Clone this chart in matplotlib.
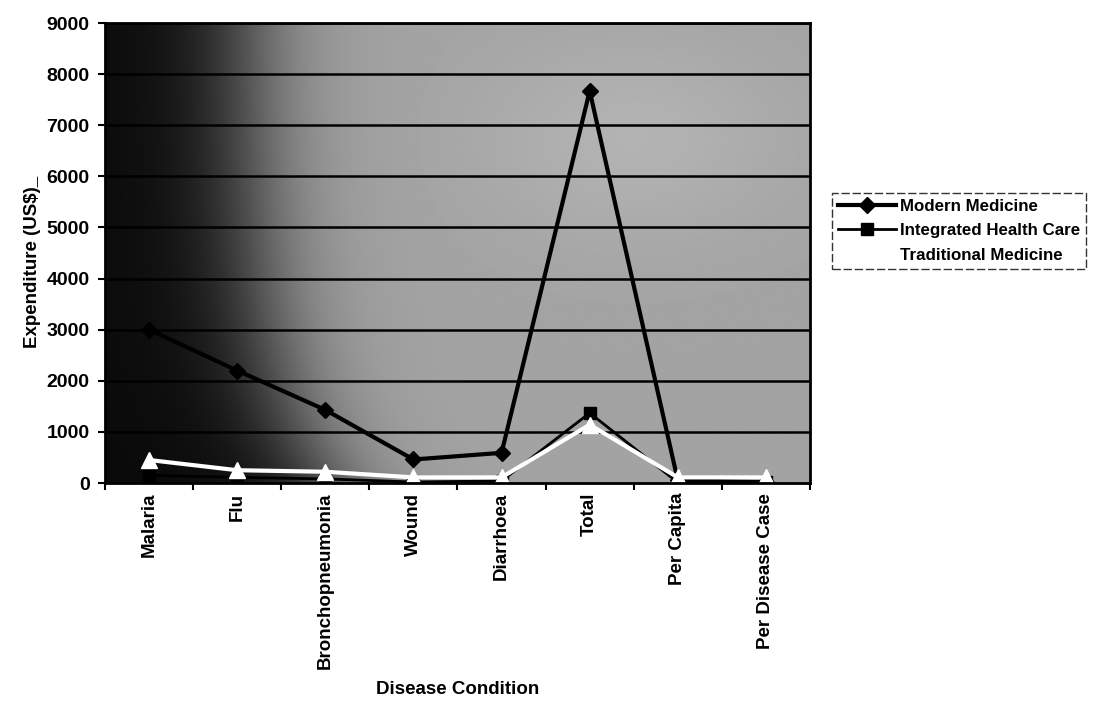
import matplotlib
matplotlib.use('Agg')
import matplotlib.pyplot as plt
import numpy as np

categories = ['Malaria', 'Flu', 'Bronchopneumonia', 'Wound', 'Diarrhoea', 'Total', 'Per Capita', 'Per Disease Case']
modern = [3000, 2200, 1430, 460, 590, 7670, 50, 20]
integrated = [150, 110, 80, 20, 40, 1370, 10, 10]
traditional = [450, 250, 220, 110, 110, 1140, 110, 110]
yticks = [0, 1000, 2000, 3000, 4000, 5000, 6000, 7000, 8000, 9000]

plt.rcParams['font.family'] = ['Liberation Sans', 'DejaVu Sans']
plt.rcParams['font.weight'] = 'bold'

W, H = 1099, 701
fig = plt.figure(figsize=(W / 100, H / 100), dpi=100)
ax = fig.add_axes([105 / W, 1 - 483 / H, 705 / W, 460 / H])

n = len(categories)
x = np.arange(n)

# shaded background of the scanned plot area: near black on the left
gx = np.linspace(0, 1, 500)
gy = np.linspace(0, 1, 250)
X, Y = np.meshgrid(gx, gy)
centre = 0.2 + 0.12 * np.exp(-Y / 0.25)
shade = 0.04 + 0.60 / (1 + np.exp(-(X - centre) / 0.05))
shade = shade + 0.06 * np.exp(-((X - 0.75) ** 2) / 0.05 - ((Y - 0.75) ** 2) / 0.05)
ax.imshow(shade, cmap='gray', vmin=0, vmax=1, aspect='auto', origin='lower',
          extent=(-0.5, n - 0.5, 0, 9000), zorder=0)

for v in yticks[1:]:
    ax.axhline(v, color='black', lw=1.8, zorder=1)

# later series sit on top, as in the original spreadsheet chart
ax.plot(x, modern, color='black', lw=3, marker='D', ms=8.5, mfc='black', mec='black',
        zorder=3, label='Modern Medicine')
ax.plot(x, integrated, color='black', lw=2, marker='s', ms=8, mfc='black', mec='black',
        zorder=4, label='Integrated Health Care')
ax.plot(x, traditional, color='white', lw=3, marker='^', ms=11, mfc='white', mec='white',
        zorder=5, label='Traditional Medicine', clip_on=False)

ax.set_xlim(-0.5, n - 0.5)
ax.set_ylim(0, 9000)
ax.set_yticks(yticks)
ax.set_yticklabels([str(v) for v in yticks], fontsize=14, fontweight='bold')
ax.set_xticks(x)
ax.set_xticklabels(categories, rotation=90, fontsize=13.5, fontweight='bold')
ax.tick_params(axis='x', length=0, pad=7)
ax.set_xticks(np.arange(n + 1) - 0.5, minor=True)
ax.tick_params(axis='x', which='minor', length=5, width=1.5, direction='out')
ax.tick_params(axis='y', length=5, width=1.5, direction='out', pad=6)
for s in ax.spines.values():
    s.set_linewidth(2)
    s.set_zorder(6)

fig.text(33 / W, 1 - 262 / H, 'Expenditure (US$)_', rotation=90, ha='center', va='center',
         fontsize=13.5, fontweight='bold')
fig.text(458 / W, 1 - 690 / H, 'Disease Condition', ha='center', va='center',
         fontsize=13.5, fontweight='bold')

leg = fig.legend(loc='upper left', bbox_to_anchor=(832 / W, 1 - 193 / H),
                 frameon=True, fancybox=False, edgecolor='black', fontsize=12.2,
                 handlelength=3.4, handletextpad=0.25, borderaxespad=0, borderpad=0.35,
                 labelspacing=0.55)
leg.get_frame().set_linewidth(1)
leg.get_frame().set_linestyle((0, (6, 2)))

fig.savefig('out.png', dpi=100)
